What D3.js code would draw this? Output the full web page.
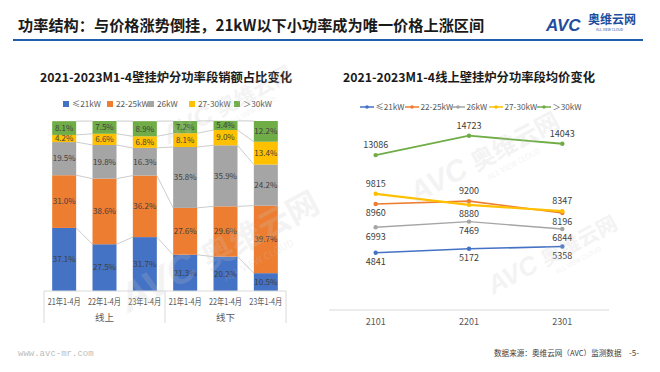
<!DOCTYPE html>
<html>
<head>
<meta charset="utf-8">
<script src="https://cdn.jsdelivr.net/npm/d3@7"></script>
<style>
  body { margin: 0; background: #fff; }
  svg { display: block; font-family: "Noto Sans CJK SC", "Noto Sans", sans-serif; }
</style>
</head>
<body>
<svg id="grafica"></svg>
<script>
// datos del grafico izquierdo (porcentaje de ventas por segmento de potencia)
const segmentos = ['≤21kW', '22-25kW', '26kW', '27-30kW', '＞30kW'];
const colores = ['#4472C4', '#ED7D31', '#A5A5A5', '#FFC000', '#70AD47'];
const periodos = ['21年1-4月', '22年1-4月', '23年1-4月', '21年1-4月', '22年1-4月', '23年1-4月'];
const canales = ['线上', '线下'];
const pctMenor21 = [37.1, 27.5, 31.7, 21.3, 20.2, 10.5];
const pct22a25 = [31.0, 38.6, 36.2, 27.6, 29.6, 39.7];
const pct26 = [19.5, 19.8, 16.3, 35.8, 35.9, 24.2];
const pct27a30 = [4.2, 6.6, 6.8, 8.1, 9.0, 13.4];
const pctMayor30 = [8.1, 7.5, 8.9, 7.2, 5.4, 12.2];

// datos del grafico derecho (precio medio online)
const trimestres = ['2101', '2201', '2301'];
const precioMenor21 = [4841, 5172, 5358];
const precio22a25 = [8960, 9200, 8196];
const precio26 = [6993, 7469, 6844];
const precio27a30 = [9815, 8880, 8347];
const precioMayor30 = [13086, 14723, 14043];

const ancho = 660, alto = 372;
const svg = d3.select('#grafica').attr('width', ancho).attr('height', alto);

/**
 * Encabezado
 */
svg.append('text').attr('x', 18).attr('y', 31)
    .attr('font-size', 15.2).attr('font-weight', 'bold').attr('fill', '#1a1a1a')
    .text('功率结构：与价格涨势倒挂，21kW以下小功率成为唯一价格上涨区间');
svg.append('line').attr('x1', 13).attr('x2', 643).attr('y1', 40).attr('y2', 40)
    .attr('stroke', '#1F5FAD').attr('stroke-width', 2);
svg.append('text').attr('x', 546).attr('y', 31)
    .attr('font-size', 17).attr('font-weight', 'bold').attr('font-style', 'italic')
    .attr('fill', '#1F4E9E').attr('font-family', 'Liberation Sans, Arial, sans-serif')
    .text('AVC');
svg.append('text').attr('x', 588).attr('y', 24)
    .attr('font-size', 12).attr('font-weight', 'bold').attr('fill', '#1F4E9E')
    .text('奥维云网');
svg.append('text').attr('x', 596).attr('y', 31)
    .attr('font-size', 3.5).attr('fill', '#1F4E9E')
    .text('ALL VIEW CLOUD');

const marcas = [[200, 275, 40], [215, 120, 26], [470, 175, 30], [540, 270, 26]];
const gMarca = svg.append('g');

/**
 * Grafico izquierdo: barras apiladas al 100%
 */
const filas = periodos.map((p, i) => ({
    idx: i,
    v: [pctMenor21[i], pct22a25[i], pct26[i], pct27a30[i], pctMayor30[i]]
}));
const pila = d3.stack()
    .keys(d3.range(segmentos.length))
    .value((d, k) => d.v[k])(filas);

const xB = d3.scaleBand().domain(d3.range(periodos.length)).range([44, 286])
    .paddingInner(0.405).paddingOuter(0.2025);
const yB = d3.scaleLinear().domain([0, 100]).range([291, 121]);

svg.append('text').attr('x', 166).attr('y', 82).attr('text-anchor', 'middle')
    .attr('font-size', 12.3).attr('font-weight', 'bold').attr('fill', '#1a1a1a')
    .text('2021-2023M1-4壁挂炉分功率段销额占比变化');

// leyenda izquierda
const legIzq = [63, 107, 148, 189, 234];
segmentos.forEach((s, k) => {
    svg.append('rect').attr('x', legIzq[k]).attr('y', 101).attr('width', 6).attr('height', 6)
        .attr('fill', colores[k]);
    svg.append('text').attr('x', legIzq[k] + 9).attr('y', 107.3)
        .attr('font-size', 8.2).attr('fill', '#595959').text(s);
});

// lineas de serie entre barras
const gSerie = svg.append('g').attr('stroke', '#BFBFBF').attr('stroke-width', 0.8).attr('fill', 'none');
pila.forEach(capa => {
    for (let i = 0; i < capa.length - 1; i++) {
        gSerie.append('line')
            .attr('x1', xB(i) + xB.bandwidth()).attr('y1', yB(capa[i][1]))
            .attr('x2', xB(i + 1)).attr('y2', yB(capa[i + 1][1]));
    }
});

const gBar = svg.append('g');
pila.forEach((capa, k) => {
    gBar.selectAll(null).data(capa).join('rect')
        .attr('x', (d, i) => xB(i))
        .attr('y', d => yB(d[1]))
        .attr('width', xB.bandwidth())
        .attr('height', d => yB(d[0]) - yB(d[1]))
        .attr('fill', colores[k]);
    gBar.selectAll(null).data(capa).join('text')
        .attr('x', (d, i) => xB(i) + xB.bandwidth() / 2)
        .attr('y', d => (yB(d[0]) + yB(d[1])) / 2 + 2.8)
        .attr('text-anchor', 'middle').attr('font-size', 8).attr('fill', '#404040')
        .text(d => d.data.v[k].toFixed(1) + '%');
});

// eje de categorias
const gEje = svg.append('g').attr('stroke', '#D9D9D9').attr('stroke-width', 1);
gEje.append('line').attr('x1', 44).attr('x2', 286).attr('y1', 291).attr('y2', 291);
[44, 165, 286].forEach(x => {
    gEje.append('line').attr('x1', x).attr('x2', x).attr('y1', 291).attr('y2', 323);
});
svg.append('g').selectAll('text').data(periodos).join('text')
    .attr('x', (d, i) => xB(i) + xB.bandwidth() / 2).attr('y', 304.5)
    .attr('text-anchor', 'middle').attr('font-size', 8.6).attr('fill', '#595959')
    .attr('textLength', 33).attr('lengthAdjust', 'spacingAndGlyphs')
    .text(d => d);
canales.forEach((c, j) => {
    svg.append('text').attr('x', 104.5 + j * 121).attr('y', 321)
        .attr('text-anchor', 'middle').attr('font-size', 9.5).attr('fill', '#595959').text(c);
});

/**
 * Grafico derecho: lineas de precio medio
 */
const series = [precioMenor21, precio22a25, precio26, precio27a30, precioMayor30];
const xL = d3.scalePoint().domain(trimestres).range([329, 609]).padding(0.5);
const yL = d3.scaleLinear().domain([0, 16000]).range([310, 120.6]);

svg.append('text').attr('x', 469).attr('y', 82).attr('text-anchor', 'middle')
    .attr('font-size', 12.3).attr('font-weight', 'bold').attr('fill', '#1a1a1a')
    .text('2021-2023M1-4线上壁挂炉分功率段均价变化');

// leyenda derecha
const legDer = [360, 405, 451, 489, 537];
segmentos.forEach((s, k) => {
    svg.append('line').attr('x1', legDer[k]).attr('x2', legDer[k] + 14)
        .attr('y1', 107).attr('y2', 107).attr('stroke', colores[k]).attr('stroke-width', 1.5);
    svg.append('circle').attr('cx', legDer[k] + 7).attr('cy', 107).attr('r', 1.8).attr('fill', colores[k]);
    svg.append('text').attr('x', legDer[k] + 15.5).attr('y', 110)
        .attr('font-size', 8.2).attr('fill', '#595959').text(s);
});

svg.append('line').attr('x1', 329).attr('x2', 609).attr('y1', 310).attr('y2', 310)
    .attr('stroke', '#D9D9D9').attr('stroke-width', 1);
svg.append('g').selectAll('text').data(trimestres).join('text')
    .attr('x', d => xL(d)).attr('y', 324.5).attr('text-anchor', 'middle')
    .attr('font-size', 9).attr('fill', '#595959').text(d => d);

const linea = d3.line().x((d, i) => xL(trimestres[i])).y(d => yL(d));
const anchos = [1.6, 1.6, 1.4, 2.2, 1.8];
const orden = [2, 0, 4, 1, 3];
orden.forEach(k => {
    svg.append('path').datum(series[k]).attr('d', linea)
        .attr('fill', 'none').attr('stroke', colores[k]).attr('stroke-width', anchos[k]);
    svg.append('g').selectAll('circle').data(series[k]).join('circle')
        .attr('cx', (d, i) => xL(trimestres[i])).attr('cy', d => yL(d))
        .attr('r', 2.2).attr('fill', colores[k]);
});

// etiquetas: arriba o abajo segun la serie vecina
const arriba = (k, i) => {
    if (k === 4) return true;
    if (k === 0 || k === 2) return false;
    const otro = k === 1 ? 3 : 1;
    return series[k][i] > series[otro][i];
};
series.forEach((s, k) => {
    svg.append('g').selectAll('text').data(s).join('text')
        .attr('x', (d, i) => xL(trimestres[i]))
        .attr('y', (d, i) => yL(d) + (arriba(k, i) ? -7 : 12.5))
        .attr('text-anchor', 'middle').attr('font-size', 9).attr('fill', '#404040')
        .text(d => d);
});

// marca de agua encima, casi transparente
marcas.forEach(([x, y, t]) => {
    const g = gMarca.append('g').attr('transform', `translate(${x},${y}) rotate(-28)`)
        .attr('fill', '#c8c8c8').attr('opacity', 0.2);
    g.append('text').attr('text-anchor', 'end').attr('font-size', t).attr('font-weight', 'bold')
        .attr('font-style', 'italic').attr('font-family', 'Liberation Sans, sans-serif').text('AVC');
    g.append('text').attr('x', t * 0.25).attr('font-size', t * 0.8).attr('font-weight', 'bold').text('奥维云网');
    g.append('text').attr('x', t * 0.5).attr('y', t * 0.45).attr('font-size', t * 0.25).text('ALL VIEW CLOUD');
});
gMarca.raise();

/**
 * Pie de pagina
 */
svg.append('text').attr('x', 18).attr('y', 356)
    .attr('font-size', 9).attr('fill', '#BDBDBD').attr('font-family', 'Liberation Mono, monospace')
    .text('www.avc-mr.com');
svg.append('text').attr('x', 494).attr('y', 355.5)
    .attr('font-size', 7.6).attr('fill', '#404040')
    .text('数据来源：奥维云网（AVC）监测数据');
svg.append('text').attr('x', 629).attr('y', 355.5)
    .attr('font-size', 8).attr('fill', '#404040').text('-5-');
</script>
</body>
</html>
